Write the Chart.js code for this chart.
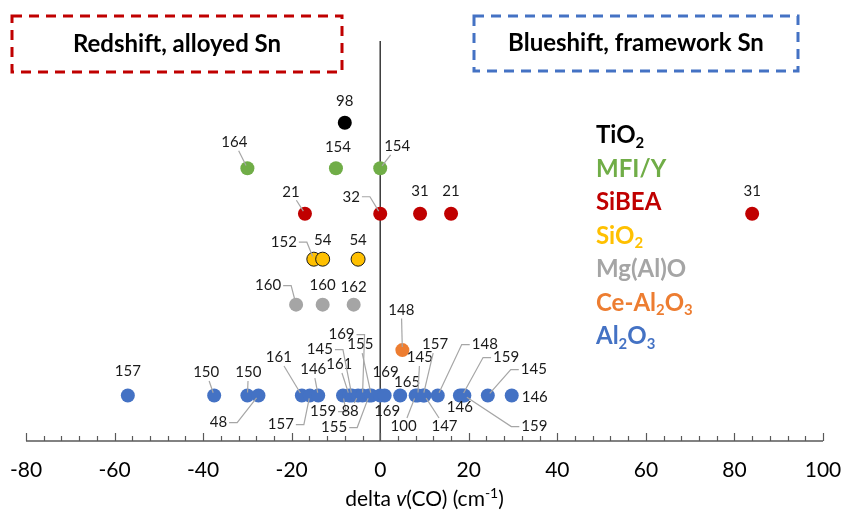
<!DOCTYPE html>
<html><head><meta charset="utf-8">
<script src="https://cdn.jsdelivr.net/npm/chart.js@4.4.1/dist/chart.umd.min.js"></script>
<style>html,body{margin:0;padding:0;background:#fff}</style>
</head><body>
<canvas id="c" width="841" height="519"></canvas>
<script>
// Sn-site CO shift data: delta v(CO) per support, with the reference number of each source
const categories = ['TiO2', 'MFI/Y', 'SiBEA', 'SiO2', 'Mg(Al)O', 'Ce-Al2O3', 'Al2O3'];

const tio2Shift = [-8];
const tio2Refs = ['98'];
const mfiShift = [-30, -10, 0];
const mfiRefs = ['164', '154', '154'];
const sibeaShift = [-17, 0, 9, 16, 84];
const sibeaRefs = ['21', '32', '31', '21', '31'];
const sio2Shift = [-15, -13, -5];
const sio2Refs = ['152', '54', '54'];
const mgalShift = [-19, -13, -6];
const mgalRefs = ['160', '160', '162'];
const ceShift = [5];
const ceRefs = ['148'];
const al2o3Shift = [-57, -37.5, -30, -27.5, -17.7, -15.9, -14, -8.4, -7, -6.4, -5, -4, -2.5, -2, 0, 1, 4.5, 8, 8.5, 9.7, 10, 13, 18, 18.5, 19, 24.3, 29.7];
const al2o3Refs = ['157', '150', '150', '48', '161', '157', '146', '159', '161', '145', '88', '169', '155', '155', '169', '169', '165', '100', '145', '157', '147', '148', '146', '159', '159', '145', '146'];

const xTicks = [-80, -60, -40, -20, 0, 20, 40, 60, 80, 100];

// label placement: [dx, dy, leader] in px from the marker; leader '' none, 's' straight, 'e' elbow
const tio2Tags = [[0, -22, '']];
const mfiTags = [[-13, -26, 's'], [2, -21, ''], [17, -22, 's']];
const sibeaTags = [[-14, -22, 's'], [-29, -17, 'e'], [0, -23, ''], [0, -23, ''], [0, -23, '']];
const sio2Tags = [[-30, -17, 'e'], [0, -19, ''], [0, -19, '']];
const mgalTags = [[-28, -19, 'e'], [0, -19, ''], [0, -17, '']];
const ceTags = [[-1, -40, 's']];
const al2o3Tags = [
  [0, -24, ''], [-8, -23, 's'], [1, -23, 's'], [-40, 27, 'e'], [-23, -38, 's'], [-29, 29, 'e'],
  [-5, -26, 's'], [-20, 16, 'e'], [-10, -31, 's'], [-32, -46, 'e'], [-8, 16, 's'], [-21, -61, 'e'],
  [-35, 32, 'e'], [-11, -51, 's'], [7, 16, ''], [1, -23, ''], [7, -13, ''], [-12, 31, 's'],
  [2, -38, 's'], [12, -51, 's'], [20, 31, 's'], [47, -51, 'e'], [0, 12, ''], [44, -38, 'e'],
  [70, 31, 'e'], [46, -26, 'e'], [23, 2, '']
];

const FONT = 'Lato, "Open Sans", sans-serif';
const rowOf = name => categories.length - categories.indexOf(name);

function series(name, shifts, refs, tags, color, border) {
  return {
    label: name,
    data: shifts.map(v => ({ x: v, y: rowOf(name) })),
    refs: refs,
    tags: tags,
    backgroundColor: color,
    borderColor: border || color,
    borderWidth: border ? 1 : 0,
    pointRadius: 7,
    pointHoverRadius: 7
  };
}

const datasets = [
  series('TiO2', tio2Shift, tio2Refs, tio2Tags, '#000000'),
  series('MFI/Y', mfiShift, mfiRefs, mfiTags, '#70ad47'),
  series('SiBEA', sibeaShift, sibeaRefs, sibeaTags, '#c00000'),
  series('SiO2', sio2Shift, sio2Refs, sio2Tags, '#ffc000', '#1a1a1a'),
  series('Mg(Al)O', mgalShift, mgalRefs, mgalTags, '#a5a5a5'),
  series('Ce-Al2O3', ceShift, ceRefs, ceTags, '#ed7d31'),
  series('Al2O3', al2o3Shift, al2o3Refs, al2o3Tags, '#4472c4')
];

// text with digits set as subscripts (chemical formulas)
function drawFormula(ctx, text, x, y, size, weight, color) {
  ctx.fillStyle = color;
  ctx.textBaseline = 'alphabetic';
  ctx.textAlign = 'left';
  for (const p of text.match(/\d+|\D+/g)) {
    const sub = /^\d+$/.test(p);
    ctx.font = weight + ' ' + (sub ? size * 0.62 : size) + 'px ' + FONT;
    ctx.fillText(p, x, sub ? y + size * 0.2 : y);
    x += ctx.measureText(p).width;
  }
}

const decor = {
  id: 'decor',
  beforeDatasetsDraw(chart) {
    const { ctx, chartArea: a, scales: { x } } = chart;
    ctx.save();
    // zero line
    const x0 = x.getPixelForValue(0);
    ctx.strokeStyle = '#3a3a3a';
    ctx.lineWidth = 1.5;
    ctx.beginPath(); ctx.moveTo(x0, a.top); ctx.lineTo(x0, a.bottom); ctx.stroke();
    // axis line with upward ticks
    ctx.strokeStyle = '#595959';
    ctx.lineWidth = 1.5;
    ctx.beginPath(); ctx.moveTo(a.left, a.bottom); ctx.lineTo(a.right, a.bottom); ctx.stroke();
    ctx.lineWidth = 1.2;
    for (let v = x.min; v <= x.max + 0.001; v += 4) {
      const px = Math.round(x.getPixelForValue(v)) + 0.5;
      const len = (v % 20 === 0) ? 8 : 5;
      ctx.beginPath(); ctx.moveTo(px, a.bottom); ctx.lineTo(px, a.bottom - len); ctx.stroke();
    }
    // tick labels
    ctx.fillStyle = '#000';
    ctx.font = '21px ' + FONT;
    ctx.textAlign = 'center';
    ctx.textBaseline = 'middle';
    for (const t of xTicks) ctx.fillText(String(t), x.getPixelForValue(t), a.bottom + 29);
    // axis title: delta v(CO) (cm-1)
    const cx = (a.left + a.right) / 2, ty = a.bottom + 65;
    const runs = [
      ['delta ', '21px', 0], ['v', 'italic 21px', 0], ['(CO) (cm', '21px', 0],
      ['-1', '14px', -8], [')', '21px', 0]
    ];
    let tw = 0;
    for (const r of runs) { ctx.font = r[1] + ' ' + FONT; tw += ctx.measureText(r[0]).width; }
    let tx = cx - tw / 2;
    ctx.textAlign = 'left';
    ctx.textBaseline = 'alphabetic';
    for (const r of runs) {
      ctx.font = r[1] + ' ' + FONT;
      ctx.fillText(r[0], tx, ty + r[2]);
      tx += ctx.measureText(r[0]).width;
    }
    // dashed header boxes
    const boxes = [
      ['Redshift, alloyed Sn', 12, 16, 342, 72, '#c00000'],
      ['Blueshift, framework Sn', 474, 16, 798, 71, '#4472c4']
    ];
    for (const [txt, l, t, r, b, col] of boxes) {
      ctx.strokeStyle = col;
      ctx.lineWidth = 3;
      ctx.setLineDash([10, 7]);
      ctx.strokeRect(l, t, r - l, b - t);
      ctx.setLineDash([]);
      ctx.fillStyle = '#000';
      ctx.font = 'bold 24px ' + FONT;
      ctx.textAlign = 'center';
      ctx.textBaseline = 'middle';
      ctx.fillText(txt, (l + r) / 2, (t + b) / 2);
    }
    // legend as coloured formula names
    chart.data.datasets.forEach((ds, i) => {
      drawFormula(ctx, ds.label, 596, 143 + i * 33.5, 24, 'bold', ds.backgroundColor);
    });
    ctx.restore();
  },
  afterDatasetsDraw(chart) {
    const { ctx } = chart;
    ctx.save();
    ctx.font = '15px ' + FONT;
    chart.data.datasets.forEach((ds, di) => {
      const meta = chart.getDatasetMeta(di);
      meta.data.forEach((pt, j) => {
        const [dx, dy, kind] = ds.tags[j];
        const lx = pt.x + dx, ly = pt.y + dy;
        const w = ctx.measureText(ds.refs[j]).width, h = 11;
        if (kind) {
          ctx.strokeStyle = '#a6a6a6';
          ctx.lineWidth = 1.2;
          ctx.beginPath();
          let sx, sy;
          if (kind === 'e') {
            const side = pt.x > lx ? 1 : -1;
            sx = lx + side * (w / 2 + 2); sy = ly;
            ctx.moveTo(sx, sy);
            sx += side * 8;
            ctx.lineTo(sx, sy);
          } else {
            const vx = pt.x - lx, vy = pt.y - ly;
            const k = Math.min((w / 2 + 2) / Math.abs(vx || 1e-6), (h / 2 + 3) / Math.abs(vy || 1e-6));
            sx = lx + vx * k; sy = ly + vy * k;
            ctx.moveTo(sx, sy);
          }
          const ex = pt.x - sx, ey = pt.y - sy, d = Math.hypot(ex, ey);
          ctx.lineTo(pt.x - ex / d * 3, pt.y - ey / d * 3);
          ctx.stroke();
        }
        ctx.fillStyle = '#1a1a1a';
        ctx.textAlign = 'center';
        ctx.textBaseline = 'middle';
        ctx.fillText(ds.refs[j], lx, ly);
      });
    });
    ctx.restore();
  }
};

new Chart(document.getElementById('c'), {
  type: 'scatter',
  data: { datasets },
  options: {
    responsive: false,
    animation: false,
    devicePixelRatio: 1,
    layout: { padding: { left: 26, right: 18, top: 41, bottom: 78 } },
    scales: {
      x: { type: 'linear', min: -80, max: 100, display: false },
      y: { type: 'linear', min: 0, max: 8.8, display: false }
    },
    plugins: { legend: { display: false }, tooltip: { enabled: false } }
  },
  plugins: [decor]
});
</script>
</body></html>
